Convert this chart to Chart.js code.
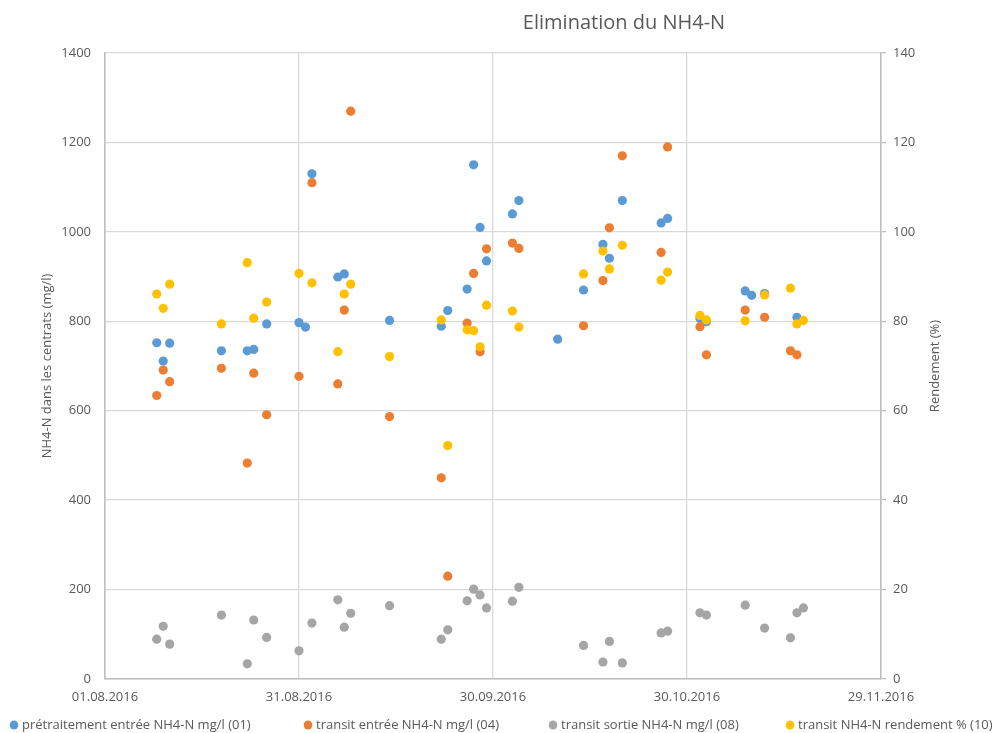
<!DOCTYPE html>
<html>
<head>
<meta charset="utf-8">
<script src="https://cdn.jsdelivr.net/npm/chart.js@4.4.1/dist/chart.umd.min.js"></script>
<style>
  html, body { margin: 0; padding: 0; background: #ffffff; }
  #wrap { width: 1001px; height: 733px; position: relative; }
</style>
</head>
<body>
<div id="wrap"><canvas id="c"></canvas></div>
<script>
// ---------------- data ----------------
const chartTitle = 'Elimination du NH4-N';
const leftAxisTitle = 'NH4-N dans les centrats (mg/l)';
const rightAxisTitle = 'Rendement (%)';
const seriesNames = [
  'prétraitement entrée NH4-N mg/l (01)',
  'transit entrée NH4-N mg/l (04)',
  'transit sortie NH4-N mg/l (08)',
  'transit NH4-N rendement % (10)'
];
const xTickDates = ['01.08.2016', '31.08.2016', '30.09.2016', '30.10.2016', '29.11.2016'];

const dates = [
  '09.08.2016','10.08.2016','11.08.2016','19.08.2016','23.08.2016','24.08.2016','26.08.2016',
  '31.08.2016','01.09.2016','02.09.2016','06.09.2016','07.09.2016','08.09.2016','14.09.2016',
  '22.09.2016','23.09.2016','26.09.2016','27.09.2016','28.09.2016','29.09.2016','03.10.2016',
  '04.10.2016','10.10.2016','14.10.2016','17.10.2016','18.10.2016','20.10.2016','26.10.2016',
  '27.10.2016','01.11.2016','02.11.2016','08.11.2016','09.11.2016','11.11.2016','15.11.2016',
  '16.11.2016','17.11.2016'
];
const pretraitementEntree = [
  752, 711, 751, 734, 734, 737, 794,
  797, 787, 1130, 899, 906, null, 802,
  789, 824, 872, 1150, 1010, 935, 1040,
  1070, 760, 870, 972, 941, 1070, 1020,
  1030, 807, 799, 868, 858, 862, null,
  809, null
];
const transitEntree = [
  634, 691, 665, 695, 483, 684, 591,
  677, null, 1110, 660, 825, 1270, 587,
  450, 230, 796, 907, 732, 962, 975,
  963, null, 790, 891, 1009, 1170, 954,
  1190, 788, 725, 825, null, 809, 734,
  725, null
];
const transitSortie = [
  89, 118, 78, 143, 34, 132, 93,
  63, null, 125, 177, 116, 147, 164,
  89, 110, 175, 201, 188, 159, 174,
  205, null, 75, 38, 84, 36, 103,
  107, 148, 143, 165, null, 114, 92,
  148, 159
];
const rendement = [
  86.1, 82.9, 88.3, 79.4, 93.1, 80.7, 84.3,
  90.7, null, 88.6, 73.2, 86.1, 88.3, 72.1,
  80.3, 52.2, 78.1, 77.9, 74.3, 83.6, 82.3,
  78.7, null, 90.6, 95.7, 91.7, 97.0, 89.2,
  91.0, 81.3, 80.3, 80.1, null, 85.9, 87.4,
  79.4, 80.2
];

// ---------------- helpers ----------------
function parseDay(s) {
  const [d, m, y] = s.split('.').map(Number);
  return Date.UTC(y, m - 1, d) / 86400000;
}
const baseDay = parseDay(xTickDates[0]);
const endDay = parseDay(xTickDates[xTickDates.length - 1]);
function fmtDay(v) {
  const dt = new Date((baseDay + v) * 86400000);
  const dd = String(dt.getUTCDate()).padStart(2, '0');
  const mm = String(dt.getUTCMonth() + 1).padStart(2, '0');
  return dd + '.' + mm + '.' + dt.getUTCFullYear();
}
function toPoints(values) {
  const pts = [];
  dates.forEach((d, i) => {
    if (values[i] !== null && values[i] !== undefined) pts.push({ x: parseDay(d) - baseDay, y: values[i] });
  });
  return pts;
}

const colors = ['#5B9BD5', '#ED7D31', '#A5A5A5', '#FFC000'];
const textColor = '#595959';
const gridColor = '#d9d9d9';
const axisColor = '#bfbfbf';
const FONT = "'Open Sans', 'Noto Sans', sans-serif";

// title, right axis title and legend drawn as canvas text
const decorPlugin = {
  id: 'decor',
  afterDraw(chart) {
    const ctx = chart.ctx;
    const area = chart.chartArea;
    ctx.save();
    // chart title
    ctx.font = '20px ' + FONT;
    ctx.fillStyle = textColor;
    ctx.textAlign = 'center';
    ctx.textBaseline = 'middle';
    ctx.fillText(chartTitle, 624, 23);
    // right axis title (reads bottom to top)
    ctx.save();
    ctx.translate(935, (area.top + area.bottom) / 2);
    ctx.rotate(-Math.PI / 2);
    ctx.font = '13px ' + FONT;
    ctx.fillText(rightAxisTitle, 0, 0);
    ctx.restore();
    // legend
    const markerX = [14, 308, 553, 790];
    const ly = 725;
    ctx.font = '13px ' + FONT;
    ctx.textAlign = 'left';
    chart.data.datasets.forEach((ds, i) => {
      ctx.beginPath();
      ctx.fillStyle = ds.backgroundColor;
      ctx.ellipse(markerX[i], ly, 4.3, 4.6, 0, 0, Math.PI * 2);
      ctx.fill();
      ctx.fillStyle = textColor;
      ctx.fillText(ds.label, markerX[i] + 8, ly);
    });
    ctx.restore();
  }
};

const allSeries = [pretraitementEntree, transitEntree, transitSortie, rendement];
const datasets = allSeries.map((vals, i) => ({
  label: seriesNames[i],
  data: toPoints(vals),
  backgroundColor: colors[i],
  borderColor: colors[i],
  borderWidth: 0,
  pointRadius: 4.6,
  pointHoverRadius: 4.6,
  showLine: false,
  yAxisID: i === 3 ? 'y2' : 'y',
  order: 4 - i
}));

new Chart(document.getElementById('c'), {
  type: 'scatter',
  data: { datasets },
  plugins: [decorPlugin],
  options: {
    responsive: true,
    maintainAspectRatio: false,
    animation: false,
    layout: { padding: { top: 53, left: 0, right: 0, bottom: 0 } },
    plugins: {
      title: { display: false },
      tooltip: { enabled: false },
      legend: { display: false }
    },
    scales: {
      x: {
        type: 'linear',
        min: 0,
        max: endDay - baseDay,
        afterFit(scale) { scale.height = 54; },
        ticks: {
          stepSize: 30,
          color: textColor,
          font: { size: 13, family: FONT },
          padding: 10,
          maxRotation: 0,
          callback: (v) => fmtDay(v)
        },
        grid: { color: gridColor, lineWidth: 1.3, drawTicks: false },
        border: { color: axisColor, width: 1.6 }
      },
      y: {
        position: 'left',
        min: 0,
        max: 1400,
        afterFit(scale) { scale.width = 105; },
        ticks: {
          stepSize: 200, color: textColor, font: { size: 13, family: FONT }, padding: 14,
          callback: (v) => String(v)
        },
        grid: { color: gridColor, lineWidth: 1.3, drawTicks: false },
        border: { color: axisColor, width: 1.6 },
        title: {
          display: true,
          text: leftAxisTitle,
          color: textColor,
          font: { size: 13, family: FONT },
          padding: { top: 39, bottom: 0 }
        }
      },
      y2: {
        position: 'right',
        min: 0,
        max: 140,
        afterFit(scale) { scale.width = 120; },
        ticks: {
          stepSize: 20, color: textColor, font: { size: 13, family: FONT }, padding: 7,
          callback: (v) => String(v)
        },
        grid: { drawOnChartArea: false, drawTicks: true, tickLength: 5, color: axisColor, lineWidth: 1.3 },
        border: { color: axisColor, width: 1.6 }
      }
    }
  }
});
</script>
</body>
</html>
